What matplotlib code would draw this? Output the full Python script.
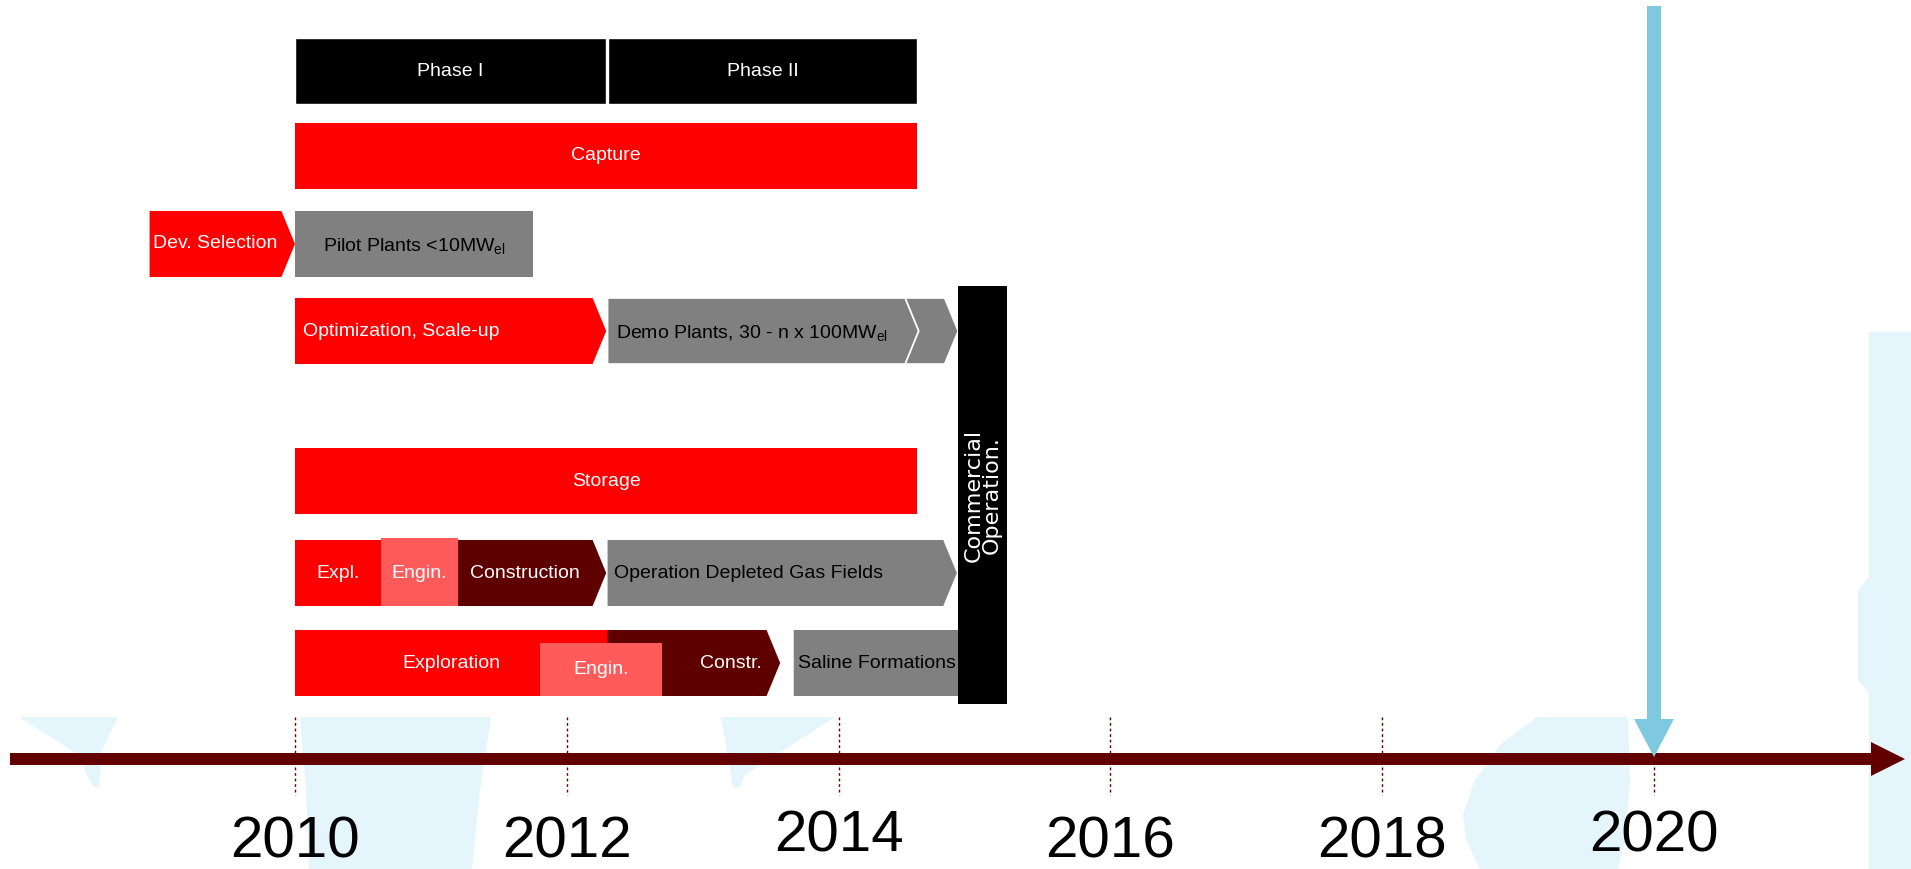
import matplotlib.pyplot as plt
from matplotlib.patches import Polygon

plt.rcParams["font.family"] = ["Liberation Sans", "DejaVu Sans"]
plt.rcParams["mathtext.fontset"] = "custom"
plt.rcParams["mathtext.rm"] = "Liberation Sans"
plt.rcParams["mathtext.it"] = "Liberation Sans:italic"

# --- data: years on the time line ---
TICK_YEARS = [2010, 2012, 2014, 2016, 2018, 2020]
TICK_LABELS = ["2010", "2012", "2014", "2016", "2018", "2020"]
TARGET_YEAR = 2020

PHASE_LABELS = ["Phase I", "Phase II"]
PHASE_START = [2010.00, 2012.30]
PHASE_END = [2012.29, 2014.58]

HEADER_LABELS = ["Capture", "Storage"]
HEADER_START = [2010.00, 2010.00]
HEADER_END = [2014.58, 2014.58]

PILOT_LABELS = ["Dev. Selection", r"Pilot Plants <10MW$_{\mathrm{el}}$"]
PILOT_START = [2008.93, 2010.00]
PILOT_END = [2010.00, 2011.75]

DEMO_LABELS = ["Optimization, Scale-up",
               r"Demo Plants, 30 - n x 100MW$_{\mathrm{el}}$", ""]
DEMO_START = [2010.00, 2012.30, 2014.49]
DEMO_END = [2012.29, 2014.59, 2014.88]

DEPLETED_LABELS = ["Expl.", "Engin.", "Construction",
                   "Operation Depleted Gas Fields"]
DEPLETED_START = [2010.00, 2010.63, 2011.20, 2012.30]
DEPLETED_END = [2010.63, 2011.20, 2012.29, 2014.87]

SALINE_LABELS = ["Exploration", "Engin.", "Constr.", "Saline Formations"]
SALINE_START = [2010.00, 2011.80, 2012.30, 2013.67]
SALINE_END = [2012.30, 2012.70, 2013.57, 2015.11]

COMMERCIAL_LABEL = "Commercial\nOperation."
COMMERCIAL_START = 2014.88
COMMERCIAL_END = 2015.24

# --- layout / style ---
W_PX, H_PX = 1911, 869
PX_PER_YEAR = 135.9
X_LEFT = 2010 - 295 / PX_PER_YEAR
X_RIGHT = X_LEFT + W_PX / PX_PER_YEAR
BAR_H = 66
TIP = 0.10
FS = 14

RED = "#FF0000"
LIGHT_RED = "#FF5B5B"
DARK_RED = "#5E0000"
GRAY = "#808080"
LINE_RED = "#620000"
BLUE = "#7EC8E0"
WATERMARK = "#E4F5FB"

ROW_Y = {
    "phase": 71, "capture": 156, "pilot": 244, "demo": 331,
    "storage": 481, "depleted": 573, "saline": 663,
}


def yr(px):
    return X_LEFT + px / PX_PER_YEAR


def bar(ax, x0, x1, yc, color, shape="rect", top_cut=0, edge="none", lw=0):
    y0, y1 = yc - BAR_H / 2 + top_cut, yc + BAR_H / 2
    ym = (y0 + y1) / 2
    if shape == "arrow":
        pts = [(x0, y0), (x1 - TIP, y0), (x1, ym), (x1 - TIP, y1), (x0, y1)]
    elif shape == "chevron":
        pts = [(x0, y0), (x1 - TIP, y0), (x1, ym), (x1 - TIP, y1),
               (x0, y1), (x0 + TIP, ym)]
    else:
        pts = [(x0, y0), (x1, y0), (x1, y1), (x0, y1)]
    ax.add_patch(Polygon(pts, closed=True, facecolor=color, edgecolor=edge,
                         linewidth=lw, zorder=2))


def label(ax, x, yc, text, color, ha="center"):
    ax.text(x, yc, text, ha=ha, va="center", color=color, fontsize=FS,
            zorder=5)


fig = plt.figure(figsize=(W_PX / 100, H_PX / 100), dpi=100)
ax = fig.add_axes([0, 0, 1, 1])
ax.set_xlim(X_LEFT, X_RIGHT)
ax.set_ylim(H_PX, 0)
ax.axis("off")

# faint background logo shapes
shapes = [
    [(19, 717), (118, 717), (102, 750), (99, 787), (93, 787), (76, 753)],
    [(300, 717), (491, 717), (480, 790), (472, 869), (309, 869), (306, 790)],
    [(721, 717), (835, 717), (745, 775), (740, 787), (733, 787)],
    [(1537, 717), (1628, 717), (1630, 780), (1625, 840), (1618, 869),
     (1480, 869), (1466, 840), (1463, 815), (1475, 780), (1500, 745)],
    [(1869, 332), (1911, 332), (1911, 869), (1869, 869), (1869, 693),
     (1858, 680), (1858, 590), (1869, 577)],
]
for s in shapes:
    ax.add_patch(Polygon([(yr(px), py) for px, py in s], closed=True,
                         facecolor=WATERMARK, edgecolor="none", zorder=0))

# phases
for lab, x0, x1 in zip(PHASE_LABELS, PHASE_START, PHASE_END):
    bar(ax, x0, x1, ROW_Y["phase"], "black", edge="white", lw=1)
    label(ax, (x0 + x1) / 2, ROW_Y["phase"], lab, "white")

# capture / storage headers
for lab, x0, x1, row in zip(HEADER_LABELS, HEADER_START, HEADER_END,
                            ["capture", "storage"]):
    bar(ax, x0, x1, ROW_Y[row], RED)
    label(ax, (x0 + x1) / 2, ROW_Y[row], lab, "white")

# dev selection + pilot plants
yc = ROW_Y["pilot"]
bar(ax, PILOT_START[0], PILOT_END[0], yc, RED, "arrow")
label(ax, (PILOT_START[0] + PILOT_END[0] - TIP) / 2, yc, PILOT_LABELS[0],
      "white")
bar(ax, PILOT_START[1], PILOT_END[1], yc, GRAY)
label(ax, (PILOT_START[1] + PILOT_END[1]) / 2, yc + 2, PILOT_LABELS[1],
      "black")

# optimisation + demo plants
yc = ROW_Y["demo"]
bar(ax, DEMO_START[0], DEMO_END[0], yc, RED, "arrow")
label(ax, DEMO_START[0] + 0.06, yc, DEMO_LABELS[0], "white", ha="left")
bar(ax, DEMO_START[1], DEMO_END[1], yc, GRAY, "arrow", edge="white", lw=1.2)
label(ax, DEMO_START[1] + 0.06, yc + 2, DEMO_LABELS[1], "black", ha="left")
bar(ax, DEMO_START[2], DEMO_END[2], yc, GRAY, "chevron", edge="white", lw=1.2)

# depleted gas fields
yc = ROW_Y["depleted"]
bar(ax, DEPLETED_START[0], DEPLETED_END[0], yc, RED)
bar(ax, DEPLETED_START[1], DEPLETED_END[1], yc, LIGHT_RED, top_cut=-2)
bar(ax, DEPLETED_START[2], DEPLETED_END[2], yc, DARK_RED, "arrow")
bar(ax, DEPLETED_START[3], DEPLETED_END[3], yc, GRAY, "arrow")
for i in range(3):
    tip = TIP if i == 2 else 0
    label(ax, (DEPLETED_START[i] + DEPLETED_END[i] - tip) / 2, yc,
          DEPLETED_LABELS[i], "white")
label(ax, DEPLETED_START[3] + 0.05, yc, DEPLETED_LABELS[3], "black", ha="left")

# saline formations
yc = ROW_Y["saline"]
bar(ax, SALINE_START[0], SALINE_END[0], yc, RED)
bar(ax, SALINE_START[2], SALINE_END[2], yc, DARK_RED, "arrow")
bar(ax, SALINE_START[1], SALINE_END[1], yc, LIGHT_RED, top_cut=13)
bar(ax, SALINE_START[3], SALINE_END[3], yc, GRAY, "arrow")
label(ax, (SALINE_START[0] + SALINE_END[0]) / 2, yc, SALINE_LABELS[0], "white")
label(ax, (SALINE_START[1] + SALINE_END[1]) / 2, yc + 6, SALINE_LABELS[1],
      "white")
label(ax, (SALINE_END[1] + SALINE_END[2] - TIP) / 2 + 0.12, yc,
      SALINE_LABELS[2], "white")
label(ax, SALINE_START[3] + 0.03, yc, SALINE_LABELS[3], "black", ha="left")

# commercial operation block
ax.add_patch(Polygon([(COMMERCIAL_START, 286), (COMMERCIAL_END, 286),
                      (COMMERCIAL_END, 704), (COMMERCIAL_START, 704)],
                     closed=True, facecolor="black", edgecolor="none",
                     zorder=3))
ax.text((COMMERCIAL_START + COMMERCIAL_END) / 2, 495, COMMERCIAL_LABEL,
        rotation=90, ha="center", va="center", multialignment="center",
        color="white", fontsize=16, family=["DejaVu Sans"], linespacing=0.9,
        zorder=5)

# time line arrow
y_line, half = 759, 6
line_pts = [(10, y_line - half), (1871, y_line - half), (1871, y_line - 17),
            (1905, y_line), (1871, y_line + 17), (1871, y_line + half),
            (10, y_line + half)]
ax.add_patch(Polygon([(yr(px), py) for px, py in line_pts], closed=True,
                     facecolor=LINE_RED, edgecolor="none", zorder=2))

ax.vlines(TICK_YEARS, 717, 795, colors=LINE_RED, linestyles=(0, (2, 2)),
          linewidth=1, zorder=1)

lift = [0, 0, 5, 0, 0, 5]
for x, t, d in zip(TICK_YEARS, TICK_LABELS, lift):
    ax.text(x, 857 - d, t, ha="center", va="baseline", fontsize=42,
            family=["Liberation Sans", "DejaVu Sans"], color="black")

# milestone arrow
sw, hw = 7 / PX_PER_YEAR, 20 / PX_PER_YEAR
arrow_pts = [(TARGET_YEAR - sw, 6), (TARGET_YEAR + sw, 6),
             (TARGET_YEAR + sw, 719), (TARGET_YEAR + hw, 719),
             (TARGET_YEAR, 757), (TARGET_YEAR - hw, 719),
             (TARGET_YEAR - sw, 719)]
ax.add_patch(Polygon(arrow_pts, closed=True, facecolor=BLUE,
                     edgecolor="none", zorder=4))

fig.savefig("out.png", dpi=100)
